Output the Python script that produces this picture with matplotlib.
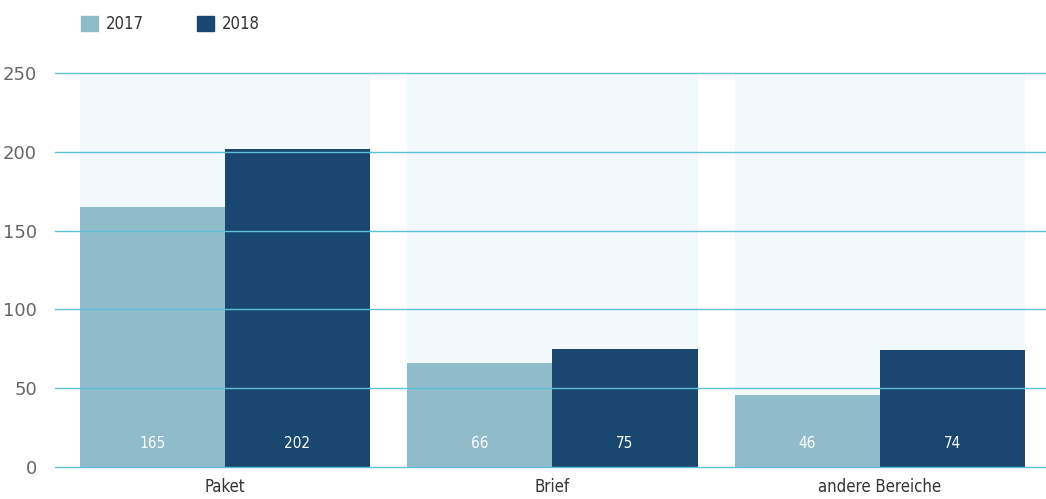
import matplotlib.pyplot as plt
import numpy as np
from matplotlib.patches import Patch

categories = ["Paket", "Brief", "andere Bereiche"]
values_2017 = [165, 66, 46]
values_2018 = [202, 75, 74]
years = ["2017", "2018"]
yticks = [0, 50, 100, 150, 200, 250]

c2017 = "#8fbbcb"
c2018 = "#1a4770"
grid_c = "#5ec0d8"
band_c = "#f1f9fc"

plt.rcParams['font.family'] = ['DejaVu Sans']
plt.rcParams['font.stretch'] = 'condensed'

fig = plt.figure(figsize=(10.46, 4.99), dpi=100)
ax = fig.add_axes([55 / 1046, 32 / 499, 991 / 1046, 394 / 499])

x = np.arange(len(categories))
gw = 0.886
bw = gw / 2

# light background band behind each group
ax.bar(x, [yticks[-1]] * len(x), width=gw, color=band_c, zorder=1)
ax.bar(x - bw / 2, values_2017, width=bw, color=c2017, zorder=2)
ax.bar(x + bw / 2, values_2018, width=bw, color=c2018, zorder=2)

for t in yticks:
    ax.axhline(t, color=grid_c, lw=1, zorder=3, clip_on=False)

for xi, v in zip(x - bw / 2, values_2017):
    ax.text(xi, 15, str(v), color="white", ha="center", va="center", fontsize=11, zorder=4)
for xi, v in zip(x + bw / 2, values_2018):
    ax.text(xi, 15, str(v), color="white", ha="center", va="center", fontsize=11, zorder=4)

ax.set_xlim(-0.519, 2.507)
ax.set_ylim(0, 250)
ax.set_yticks(yticks)
ax.set_yticklabels([str(t) for t in yticks], color="#666666", fontsize=13, stretch='normal')
ax.set_xticks(x)
ax.set_xticklabels(categories, color="#333333", fontsize=12)
ax.tick_params(length=0, axis='y', pad=13)
ax.tick_params(length=0, axis='x', pad=8)
for s in ax.spines.values():
    s.set_visible(False)

handles = [Patch(color=c2017), Patch(color=c2018)]
fig.legend(handles, years, loc="upper left", bbox_to_anchor=(66 / 1046, 1.0), ncol=2,
           frameon=False, fontsize=12, handlelength=1.0, handleheight=1.0,
           handletextpad=0.5, columnspacing=3.2, labelcolor="#333333")

fig.savefig("out.png", dpi=100)
